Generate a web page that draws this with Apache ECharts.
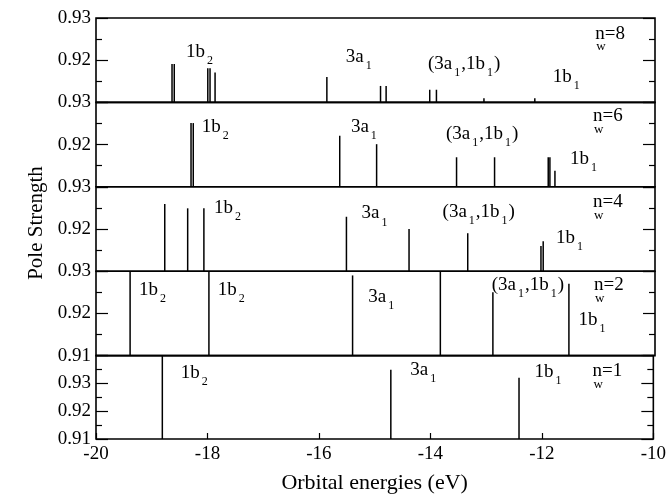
<!DOCTYPE html>
<html>
<head>
<meta charset="utf-8">
<script src="https://cdn.jsdelivr.net/npm/echarts@6/dist/echarts.min.js"></script>
<style>
  html, body { margin: 0; padding: 0; background: #fff; }
  #chart { width: 669px; height: 495px; }
</style>
</head>
<body>
<div id="chart"></div>
<script>
// pole strength sticks, one pair of arrays per panel (top to bottom)
const nw8Energy = [-18.64, -18.60, -18.00, -17.96, -17.87, -15.87, -14.91, -14.81, -14.03, -13.91, -13.06, -12.15];
const nw8Pole   = [0.9191, 0.9191, 0.9181, 0.9181, 0.9171, 0.9160, 0.9139, 0.9139, 0.9130, 0.9130, 0.9110, 0.9110];
const nw6Energy = [-18.30, -18.26, -15.64, -14.98, -13.55, -12.87, -11.91, -11.88, -11.79];
const nw6Pole   = [0.9251, 0.9251, 0.9221, 0.9201, 0.9170, 0.9170, 0.9170, 0.9170, 0.9138];
const nw4Energy = [-18.77, -18.36, -18.07, -15.52, -14.40, -13.35, -12.04, -12.00];
const nw4Pole   = [0.9259, 0.9249, 0.9249, 0.9229, 0.9200, 0.9190, 0.9160, 0.9171];
const nw2Energy = [-19.39, -17.98, -15.41, -13.84, -12.90, -11.54];
const nw2Pole   = [0.9300, 0.9300, 0.9290, 0.9300, 0.9250, 0.9270];
const nw1Energy = [-18.81, -14.71, -12.41];
const nw1Pole   = [0.9400, 0.9349, 0.9320];

// orbital labels: text ('_x' = subscript x), energy, pole strength
const nw8Labels = [['1b_2', -18.39, 0.9220], ['3a_1', -15.53, 0.9207], ['(3a_1,1b_1)', -14.06, 0.9191], ['1b_1', -11.83, 0.9160]];
const nw6Labels = [['1b_2', -18.11, 0.9242], ['3a_1', -15.44, 0.9242], ['(3a_1,1b_1)', -13.74, 0.9225], ['1b_1', -11.52, 0.9166]];
const nw4Labels = [['1b_2', -17.89, 0.9249], ['3a_1', -15.25, 0.9237], ['(3a_1,1b_1)', -13.80, 0.9241], ['1b_1', -11.77, 0.9178]];
const nw2Labels = [['1b_2', -19.23, 0.9256], ['1b_2', -17.82, 0.9256], ['3a_1', -15.13, 0.9240], ['(3a_1,1b_1)', -12.92, 0.9268], ['1b_1', -11.37, 0.9185]];
const nw1Labels = [['1b_2', -18.48, 0.9337], ['3a_1', -14.36, 0.9347], ['1b_1', -12.13, 0.9340]];

// n_w tags
const nwValues = ['8', '6', '4', '2', '1'];
const nwTagPos = [[-11.07, 0.9262], [-11.11, 0.9266], [-11.11, 0.9262], [-11.09, 0.9266], [-11.09, 0.9343]];

const xTicks = [-20, -18, -16, -14, -12, -10];
const yRanges = [[0.91, 0.93], [0.91, 0.93], [0.91, 0.93], [0.91, 0.93], [0.91, 0.94]];

const panels = [
  { e: nw8Energy, p: nw8Pole, labels: nw8Labels },
  { e: nw6Energy, p: nw6Pole, labels: nw6Labels },
  { e: nw4Energy, p: nw4Pole, labels: nw4Labels },
  { e: nw2Energy, p: nw2Pole, labels: nw2Labels },
  { e: nw1Energy, p: nw1Pole, labels: nw1Labels }
];

const FONT = 'Liberation Serif';
const TOP = 18, H = 84.4, LEFT = 96, RIGHT = 14;

const rich = {
  m: { fontFamily: FONT, fontSize: 19, lineHeight: 30, color: '#000' },
  s: { fontFamily: FONT, fontSize: 12, lineHeight: 10, verticalAlign: 'bottom', color: '#000', padding: [0, 1, 0, 2] },
  n: { fontFamily: FONT, fontSize: 19, lineHeight: 18, color: '#000' },
  w: { fontFamily: FONT, fontSize: 13, lineHeight: 9, color: '#000', padding: [0, 0, 0, 1] }
};

function toRich (txt) {
  return '{m|' + txt.replace(/_(\w)/g, '}{s|$1}{m|') + '}';
}

function stick (yBase) {
  return function (params, api) {
    const a = api.coord([api.value(0), api.value(1)]);
    const b = api.coord([api.value(0), yBase]);
    return {
      type: 'line',
      shape: { x1: a[0], y1: a[1], x2: b[0], y2: b[1] },
      style: { stroke: '#000', lineWidth: 1.5 }
    };
  };
}

const grid = [], xAxis = [], yAxis = [], series = [];

panels.forEach((pn, i) => {
  const last = i === panels.length - 1;
  grid.push({
    left: LEFT, right: RIGHT, top: TOP + i * H, height: H,
    show: true, borderColor: '#000', borderWidth: 1.6, backgroundColor: 'transparent'
  });
  xAxis.push({
    type: 'value', gridIndex: i, min: xTicks[0], max: xTicks[xTicks.length - 1], interval: 2,
    show: last,
    name: last ? 'Orbital energies (eV)' : '',
    nameLocation: 'middle', nameGap: 33,
    nameTextStyle: { fontFamily: FONT, fontSize: 22, color: '#000' },
    axisLine: { show: false },
    axisTick: { show: true, inside: true, length: 6, lineStyle: { color: '#000', width: 1.2 } },
    axisLabel: { fontFamily: FONT, fontSize: 19, color: '#000', margin: 6 },
    splitLine: { show: false }
  });
  const r = yRanges[i];
  yAxis.push({
    type: 'value', gridIndex: i, min: r[0], max: r[1], interval: 0.01,
    name: i === 2 ? 'Pole Strength' : '',
    nameLocation: 'middle', nameGap: 42,
    nameTextStyle: { fontFamily: FONT, fontSize: 21, color: '#000', padding: [0, 0, 0, 12] },
    axisLine: { show: false },
    axisTick: { show: true, inside: true, length: 12, lineStyle: { color: '#000', width: 1.2 } },
    minorTick: { show: true, splitNumber: 2, length: 6, lineStyle: { color: '#000', width: 1.2 } },
    axisLabel: {
      fontFamily: FONT, fontSize: 19, color: '#000', margin: 5,
      showMinLabel: i >= 3, showMaxLabel: !last,
      formatter: v => v.toFixed(2)
    },
    splitLine: { show: false }
  });
  yAxis.push({
    type: 'value', gridIndex: i, min: r[0], max: r[1], interval: 0.01, position: 'right',
    axisLine: { show: false },
    axisTick: { show: true, inside: true, length: 12, lineStyle: { color: '#000', width: 1.2 } },
    minorTick: { show: true, splitNumber: 2, length: 6, lineStyle: { color: '#000', width: 1.2 } },
    axisLabel: { show: false },
    splitLine: { show: false }
  });

  series.push({
    type: 'custom', xAxisIndex: i, yAxisIndex: i * 2, silent: true,
    renderItem: stick(r[0]),
    data: pn.e.map((e, k) => [e, pn.p[k]])
  });

  const lbl = pn.labels.map(l => ({ value: [l[1], l[2]], txt: toRich(l[0]) }));
  lbl.push({
    value: nwTagPos[i],
    txt: '{n|n=' + nwValues[i] + '}\n{w|w}',
    label: { offset: [0, 4] }
  });
  series.push({
    type: 'scatter', xAxisIndex: i, yAxisIndex: i * 2, silent: true,
    symbolSize: 0,
    itemStyle: { opacity: 1 },
    data: lbl,
    label: {
      show: true, position: 'right', distance: 0, align: 'left',
      color: '#000', opacity: 1,
      formatter: p => p.data.txt,
      rich: rich
    }
  });
});

const chart = echarts.init(document.getElementById('chart'), null, { renderer: 'canvas' });
chart.setOption({
  animation: false,
  backgroundColor: '#fff',
  grid: grid,
  xAxis: xAxis,
  yAxis: yAxis,
  series: series
});
</script>
</body>
</html>
